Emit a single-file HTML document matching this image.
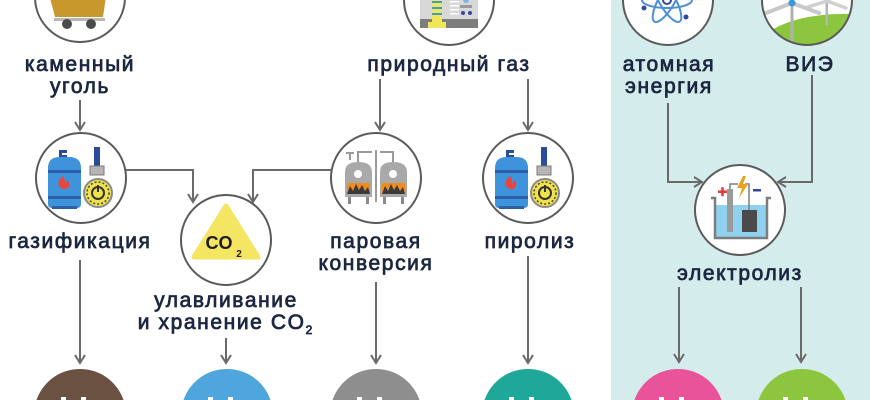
<!DOCTYPE html>
<html>
<head>
<meta charset="utf-8">
<style>
html,body{margin:0;padding:0;background:#fff;}
body{width:870px;height:400px;overflow:hidden;position:relative;}
svg{display:block;overflow:hidden;}
.lbl{font-family:"Liberation Sans","Noto Sans CJK SC",sans-serif;font-size:21px;fill:#1c2740;stroke:#1c2740;stroke-width:0.75px;letter-spacing:1.6px;text-anchor:middle;}
.ln{stroke:#6a6a6a;stroke-width:2;fill:none;}
.ah{stroke:#6a6a6a;stroke-width:2;fill:none;stroke-linejoin:miter;}
.ring{fill:#fff;stroke:#5a5a5a;stroke-width:2;}
</style>
</head>
<body>
<svg width="870" height="400" viewBox="0 0 870 400" xmlns="http://www.w3.org/2000/svg">
  <defs>
    <clipPath id="windclip"><circle cx="807" cy="1" r="44"/></clipPath>
    <clipPath id="topclip"><rect x="0" y="0" width="870" height="60"/></clipPath>
  </defs>
  <!-- right panel -->
  <rect x="611" y="0" width="259" height="400" fill="#d4ecec"/>

  <!-- coal -->
  <path class="ring" d="M35.1,0 A45,45 0 0 0 124.9,0"/>
  <polygon points="50.5,0 105.5,0 103,17 55,17" fill="#c8982c"/>
  <rect x="54" y="18" width="51" height="3" fill="#b8b8b8"/>
  <circle cx="67" cy="24" r="5" fill="#4b4b4b"/>
  <circle cx="91" cy="24" r="5" fill="#4b4b4b"/>

  <!-- gas plant -->
  <path class="ring" d="M404,0 A45,45 0 0 0 494,0"/>
  <rect x="420" y="0" width="58" height="21" fill="#d8d8d8"/>
  <rect x="420" y="19" width="58" height="9" fill="#7d7d7d"/>
  <rect x="432" y="0" width="10" height="24" fill="#f0e65a"/>
  <rect x="428" y="22" width="18" height="6" fill="#f0e65a"/>
  <rect x="432" y="1" width="10" height="2" fill="#3a9ad9"/>
  <rect x="432" y="7" width="10" height="2" fill="#3a9ad9"/>
  <rect x="432" y="13" width="10" height="2" fill="#3a9ad9"/>
  <rect x="450" y="1" width="9" height="1.5" fill="#fff"/>
  <rect x="450" y="5" width="9" height="1.5" fill="#fff"/>
  <rect x="450" y="9" width="9" height="1.5" fill="#fff"/>
  <rect x="450" y="13" width="9" height="1.5" fill="#fff"/>
  <path d="M463,0 a3,3 0 0 0 6,0 z" fill="#7fb3e0"/>
  <rect x="460" y="5" width="12" height="3" fill="#9a9a9a"/>
  <circle cx="463" cy="13" r="2" fill="#34499a"/>
  <circle cx="470" cy="13" r="2" fill="#34499a"/>

  <!-- atom -->
  <path d="M623,0 A45,45 0 0 0 713,0 Z" fill="#fff"/>
  <g clip-path="url(#topclip)">
    <g fill="none" stroke="#4b8fd6" stroke-width="2">
      <ellipse cx="667" cy="0" rx="25" ry="8"/>
      <ellipse cx="667" cy="0" rx="25" ry="8" transform="rotate(60 667 0)"/>
      <ellipse cx="667" cy="0" rx="25" ry="8" transform="rotate(-60 667 0)"/>
    </g>
    <circle cx="667" cy="0" r="4" fill="none" stroke="#34499a" stroke-width="2"/>
  </g>
  <path d="M623,0 A45,45 0 0 0 713,0" fill="none" stroke="#5a5a5a" stroke-width="2"/>
  <circle cx="644" cy="8" r="2.5" fill="#34499a"/>
  <circle cx="686" cy="17" r="2.5" fill="#34499a"/>

  <!-- wind -->
  <path d="M762,0 A45,45 0 0 0 852,0 Z" fill="#fff"/>
  <g clip-path="url(#windclip)">
    <path d="M757,40 Q790,12 852,14 L852,46 L757,46 Z" fill="#8cc63f"/>
    <rect x="825.5" y="0" width="2.5" height="25" fill="#b5b5b5"/>
    <line x1="827" y1="1" x2="846" y2="8" stroke="#d0d0d0" stroke-width="3.5" stroke-linecap="round"/>
    <line x1="827" y1="1" x2="808" y2="7" stroke="#d0d0d0" stroke-width="3.5" stroke-linecap="round"/>
    <rect x="790.5" y="3" width="3" height="42" fill="#b0b0b0"/>
    <line x1="792" y1="3" x2="766" y2="13" stroke="#c8c8c8" stroke-width="4" stroke-linecap="round"/>
    <line x1="792" y1="3" x2="819" y2="13" stroke="#c8c8c8" stroke-width="4" stroke-linecap="round"/>
    <rect x="790" y="0" width="4" height="3" fill="#c8c8c8"/>
    <circle cx="792" cy="3" r="3.5" fill="#3a9ad9"/>
  </g>
  <path d="M762,0 A45,45 0 0 0 852,0" fill="none" stroke="#5a5a5a" stroke-width="2"/>

  <!-- top labels -->
  <text class="lbl" x="80" y="71">каменный</text>
  <text class="lbl" x="80" y="93">уголь</text>
  <text class="lbl" x="449" y="71">природный газ</text>
  <text class="lbl" x="669" y="71">атомная</text>
  <text class="lbl" x="669" y="93">энергия</text>
  <text class="lbl" x="810" y="71">ВИЭ</text>

  <!-- connectors top -->
  <line class="ln" x1="80" y1="100" x2="80" y2="130"/>
  <polyline class="ah" points="75,122 80,130 85,122"/>
  <line class="ln" x1="380" y1="79" x2="380" y2="130"/>
  <polyline class="ah" points="375,122 380,130 385,122"/>
  <line class="ln" x1="528" y1="79" x2="528" y2="130"/>
  <polyline class="ah" points="523,122 528,130 533,122"/>

  <polyline class="ln" points="125,170 193,170 193,202"/>
  <polyline class="ah" points="188,194 193,202 198,194"/>
  <polyline class="ln" points="332,170 253,170 253,202"/>
  <polyline class="ah" points="248,194 253,202 258,194"/>

  <polyline class="ln" points="668,103 668,182 702,182"/>
  <polyline class="ah" points="694,177 702,182 694,187"/>
  <polyline class="ln" points="812,75 812,182 778,182"/>
  <polyline class="ah" points="786,177 778,182 786,187"/>

  <!-- gasification -->
  <circle class="ring" cx="81" cy="178" r="45"/>
  <g id="cyl">
    <path d="M59,150 h8 v3 h-5 v2 h5 v4 h-8 z" fill="#2b4c9b"/>
    <path d="M48,168 q0,-11 12,-11 h9 q12,0 12,11 v36 q0,4 -4,4 h-25 q-4,0 -4,-4 z" fill="#3f93da"/>
    <rect x="48" y="170" width="33" height="3" fill="#2b5fa8"/>
    <rect x="48" y="196" width="33" height="3" fill="#2b5fa8"/>
    <rect x="52" y="206" width="25" height="3" fill="#2b5fa8"/>
    <path d="M63,176 q-6,5 -4,10 q2,3 5,3 q4,0 5,-3 q1,-4 -2,-6 q0,3 -2,3 q0,-4 -2,-7 z" fill="#e8453c"/>
    <rect x="94" y="147" width="6" height="20" fill="#2b4c9b"/>
    <rect x="90" y="166" width="14" height="9" fill="#b5b5b5" stroke="#7a7a7a" stroke-width="1"/>
    <circle cx="98" cy="193" r="14" fill="#f0e24a" stroke="#8a8a8a" stroke-width="2"/>
    <circle cx="98" cy="193" r="11" fill="none" stroke="#444" stroke-width="1.5" stroke-dasharray="2 2"/>
    <circle cx="98" cy="193" r="6" fill="#f0e24a" stroke="#333" stroke-width="2"/>
    <rect x="97" y="185" width="2" height="7" fill="#333"/>
  </g>

  <!-- CO2 -->
  <circle class="ring" cx="226" cy="240" r="45"/>
  <polygon points="226,206 258,257 194,257" fill="#f4e562" stroke="#f4e562" stroke-width="5" stroke-linejoin="round"/>
  <text x="219" y="249" font-family="Liberation Sans,sans-serif" font-weight="bold" font-size="18" fill="#1c1c1c" text-anchor="middle">CO</text>
  <text x="239" y="257" font-family="Liberation Sans,sans-serif" font-weight="bold" font-size="10" fill="#1c1c1c" text-anchor="middle">2</text>

  <!-- steam reforming -->
  <circle class="ring" cx="376" cy="178" r="45"/>
  <g>
    <polyline points="358,163 358,152 372,152" fill="none" stroke="#9a9a9a" stroke-width="2"/>
    <polyline points="393,163 393,152 380,152" fill="none" stroke="#9a9a9a" stroke-width="2"/>
    <line x1="376" y1="150" x2="376" y2="202" stroke="#9a9a9a" stroke-width="2"/>
    <line x1="350" y1="153" x2="350" y2="160" stroke="#9a9a9a" stroke-width="2"/>
    <line x1="346" y1="153" x2="354" y2="153" stroke="#9a9a9a" stroke-width="2"/>
    <path d="M345,172 q0,-10 13,-10 q14,0 14,10 v25 h-27 z" fill="#a9a9a9"/>
    <path d="M380,172 q0,-10 13,-10 q14,0 14,10 v25 h-27 z" fill="#a9a9a9"/>
    <rect x="347" y="183" width="23" height="11" fill="#f08c1e"/>
    <rect x="382" y="183" width="23" height="11" fill="#f08c1e"/>
    <path d="M347,194 l3,-8 l3,5 l3,-7 l3,6 l3,-5 l3,6 l3,-4 l2,7 z" fill="#3a3a3a"/>
    <path d="M382,194 l3,-8 l3,5 l3,-7 l3,6 l3,-5 l3,6 l3,-4 l2,7 z" fill="#3a3a3a"/>
    <circle cx="358" cy="174" r="4" fill="#fff"/>
    <circle cx="393" cy="174" r="4" fill="#fff"/>
    <rect x="348" y="197" width="3" height="7" fill="#8a8a8a"/>
    <rect x="366" y="197" width="3" height="7" fill="#8a8a8a"/>
    <rect x="383" y="197" width="3" height="7" fill="#8a8a8a"/>
    <rect x="401" y="197" width="3" height="7" fill="#8a8a8a"/>
  </g>

  <!-- pyrolysis -->
  <circle class="ring" cx="528" cy="178" r="45"/>
  <use href="#cyl" transform="translate(447 0)"/>

  <!-- electrolysis -->
  <circle class="ring" cx="740" cy="210" r="45"/>
  <rect x="716" y="205" width="50" height="32" fill="#8fd1ee"/>
  <polyline points="711,198 715,198 715,238 767,238 767,198 771,198" fill="none" stroke="#7d7d7d" stroke-width="2.5"/>
  <rect x="727" y="189" width="6" height="43" fill="#9a9a9a"/>
  <rect x="742" y="210" width="15" height="22" fill="#4a4a4a"/>
  <polyline points="730,189 730,184 738,184" fill="none" stroke="#7d7d7d" stroke-width="1.5"/>
  <polyline points="749,210 749,184 745,184" fill="none" stroke="#7d7d7d" stroke-width="1.5"/>
  <polygon points="743,176 737,188 742,188 739,198 748,184 743,184 746,176" fill="#e8a21e"/>
  <rect x="718" y="190.5" width="9" height="2.5" fill="#e03a3a"/>
  <rect x="721.25" y="187.25" width="2.5" height="9" fill="#e03a3a"/>
  <rect x="753" y="189" width="8" height="2.5" fill="#34499a"/>

  <!-- middle labels -->
  <text class="lbl" x="80" y="248">газификация</text>
  <text class="lbl" x="226" y="307">улавливание</text>
  <text class="lbl" x="225" y="329">и хранение CO<tspan font-size="12" dy="5" letter-spacing="0">2</tspan></text>
  <text class="lbl" x="376" y="248">паровая</text>
  <text class="lbl" x="376" y="270">конверсия</text>
  <text class="lbl" x="530" y="248">пиролиз</text>
  <text class="lbl" x="740" y="280">электролиз</text>

  <!-- bottom connectors -->
  <line class="ln" x1="80" y1="260" x2="80" y2="363"/>
  <polyline class="ah" points="75,355 80,363 85,355"/>
  <line class="ln" x1="226" y1="338" x2="226" y2="363"/>
  <polyline class="ah" points="221,355 226,363 231,355"/>
  <line class="ln" x1="376" y1="282" x2="376" y2="363"/>
  <polyline class="ah" points="371,355 376,363 381,355"/>
  <line class="ln" x1="528" y1="256" x2="528" y2="363"/>
  <polyline class="ah" points="523,355 528,363 533,355"/>
  <line class="ln" x1="679" y1="287" x2="679" y2="362"/>
  <polyline class="ah" points="674,354 679,362 684,354"/>
  <line class="ln" x1="801" y1="287" x2="801" y2="362"/>
  <polyline class="ah" points="796,354 801,362 806,354"/>

  <!-- bottom H2 circles (visible top caps only) -->
  <path d="M36.5,400 A46,46 0 0 1 123.5,400 Z" fill="#6b5142"/>
  <path d="M183.5,400 A46,46 0 0 1 270.5,400 Z" fill="#4fa6dc"/>
  <path d="M332.5,400 A46,46 0 0 1 419.5,400 Z" fill="#8e8e8e"/>
  <path d="M484.5,400 A46,46 0 0 1 571.5,400 Z" fill="#1fa89a"/>
  <path d="M634.5,400 A46,46 0 0 1 721.5,400 Z" fill="#e9539a"/>
  <path d="M758.5,400 A46,46 0 0 1 845.5,400 Z" fill="#8cc63f"/>
  <g fill="#fff">
    <rect x="61" y="397" width="5" height="3"/><rect x="81" y="397" width="5" height="3"/>
    <rect x="208" y="397" width="5" height="3"/><rect x="228" y="397" width="5" height="3"/>
    <rect x="357" y="397" width="5" height="3"/><rect x="377" y="397" width="5" height="3"/>
    <rect x="509" y="397" width="5" height="3"/><rect x="529" y="397" width="5" height="3"/>
    <rect x="659" y="397" width="5" height="3"/><rect x="679" y="397" width="5" height="3"/>
    <rect x="783" y="397" width="5" height="3"/><rect x="803" y="397" width="5" height="3"/>
  </g>
</svg>
</body>
</html>
